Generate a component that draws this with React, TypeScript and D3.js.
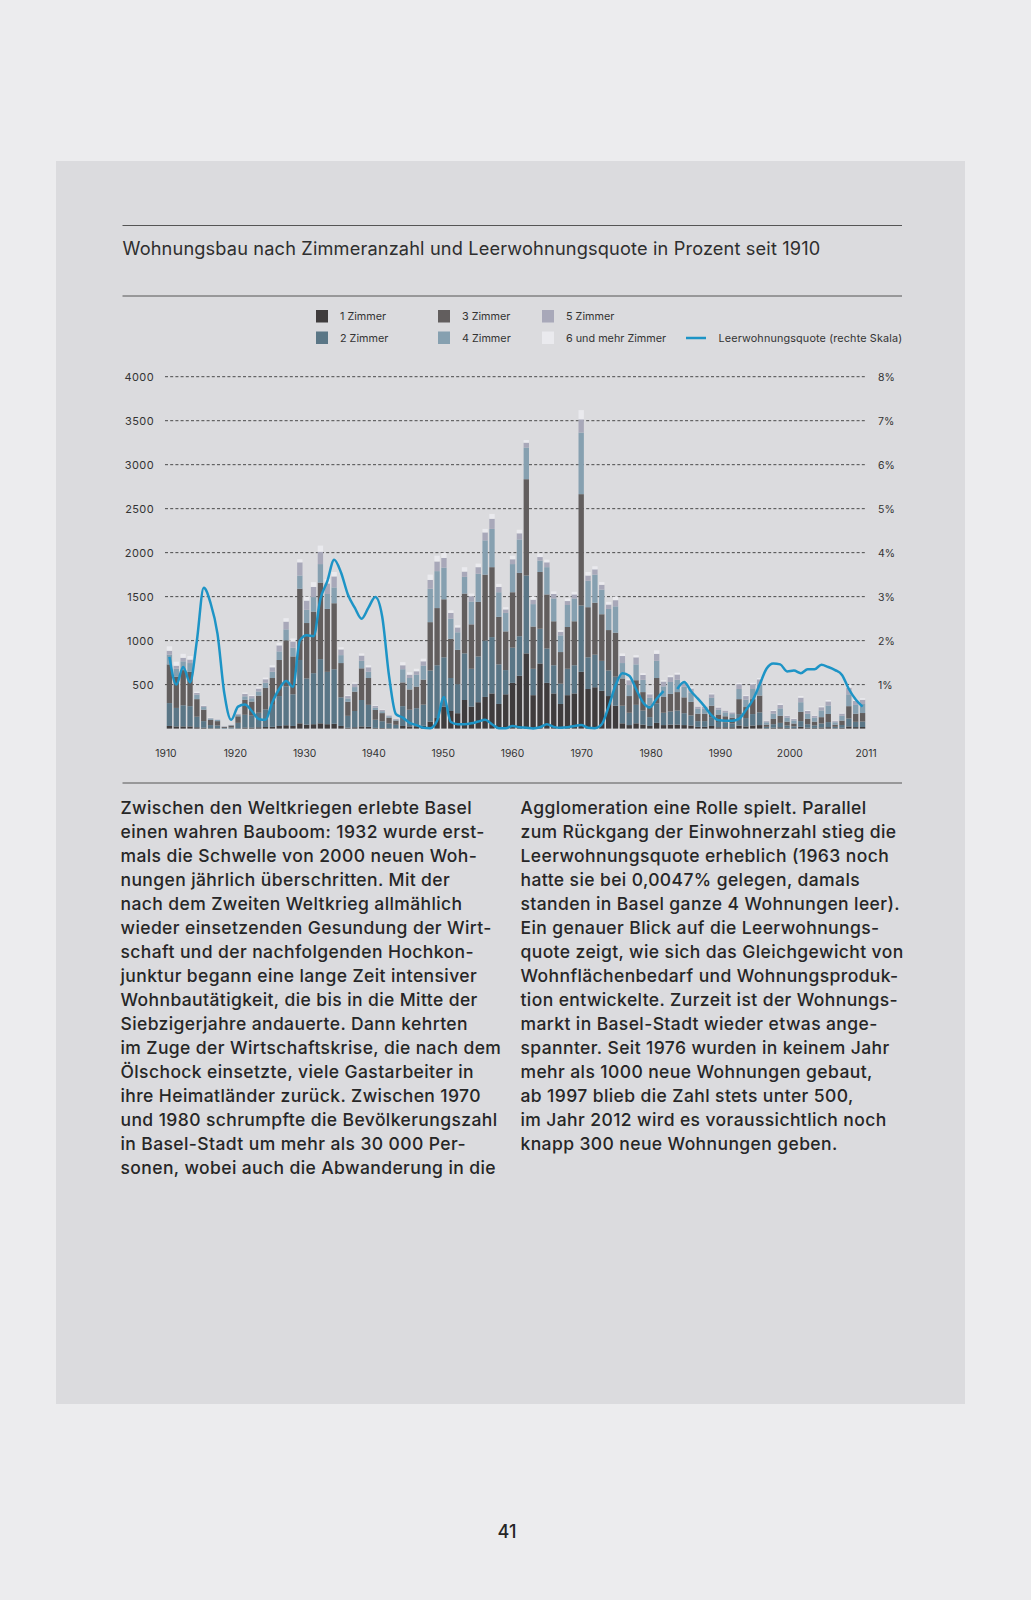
import React from 'react';
import * as d3 from 'd3';

// Wohnungsbau Basel-Stadt 1910-2011, neu erstellte Wohnungen nach Zimmerzahl
const years = d3.range(1910, 2012);

const zimmer1 = [
  30, 25, 25, 25, 15, 10, 5, 5, 0, 2,
  5, 12, 12, 15, 18, 20, 30, 38, 30, 60,
  45, 50, 60, 50, 55, 30, 10, 15, 25, 20,
  8, 7, 5, 3, 30, 25, 27, 32, 80, 120,
  250, 200, 175, 325, 250, 300, 360, 400, 280, 390,
  520, 600, 855, 380, 740, 520, 400, 280, 380, 400,
  645, 450, 470, 430, 370, 260, 60, 40, 60, 45,
  30, 65, 40, 45, 45, 40, 35, 20, 20, 30,
  15, 15, 15, 35, 25, 35, 40, 5, 10, 15,
  8, 6, 20, 10, 8, 13, 16, 5, 9, 25,
  17, 18,
];
const zimmer2 = [
  260, 210, 240, 230, 120, 75, 35, 30, 8, 12,
  60, 145, 135, 165, 200, 250, 340, 440, 360, 720,
  525, 580, 730, 595, 620, 325, 135, 185, 300, 250,
  93, 77, 54, 40, 225, 190, 205, 240, 580, 600,
  560, 375, 330, 530, 430, 520, 640, 640, 450, 275,
  400, 450, 885, 300, 395, 390, 320, 230, 300, 320,
  755, 360, 370, 340, 290, 330, 200, 140, 210, 160,
  100, 220, 140, 150, 160, 135, 115, 65, 65, 100,
  60, 55, 45, 130, 95, 130, 145, 15, 40, 50,
  28, 20, 65, 40, 28, 45, 58, 15, 32, 90,
  60, 62,
];
const zimmer3 = [
  440, 355, 400, 390, 200, 130, 60, 50, 12, 21,
  75, 170, 160, 195, 245, 305, 410, 525, 430, 810,
  630, 700, 870, 715, 750, 390, 160, 220, 360, 305,
  111, 92, 65, 48, 270, 230, 245, 285, 550, 650,
  660, 445, 390, 680, 505, 620, 750, 795, 540, 440,
  630, 720, 1095, 480, 645, 615, 500, 360, 475, 500,
  1265, 570, 590, 530, 460, 500, 310, 190, 280, 210,
  130, 290, 180, 200, 210, 180, 155, 85, 85, 130,
  85, 70, 65, 170, 125, 170, 190, 25, 60, 80,
  43, 32, 105, 60, 43, 72, 92, 25, 50, 140,
  92, 97,
];
const zimmer4 = [
  110, 90, 100, 100, 50, 30, 15, 15, 3, 5,
  18, 40, 38, 47, 58, 72, 98, 125, 100, 150,
  150, 165, 210, 170, 180, 90, 38, 52, 85, 72,
  27, 22, 16, 12, 150, 130, 135, 160, 380, 420,
  360, 230, 200, 190, 260, 320, 390, 435, 280, 210,
  320, 380, 360, 255, 130, 310, 260, 190, 250, 260,
  700, 300, 320, 280, 240, 300, 175, 125, 180, 140,
  90, 195, 120, 135, 140, 120, 105, 55, 55, 90,
  55, 45, 40, 115, 85, 115, 125, 27, 60, 85,
  46, 35, 110, 60, 46, 77, 97, 27, 55, 135,
  100, 103,
];
const zimmer5 = [
  45, 35, 40, 40, 20, 15, 5, 5, 1, 3,
  12, 28, 25, 33, 40, 50, 68, 88, 70, 150,
  105, 115, 140, 120, 125, 65, 27, 38, 60, 50,
  18, 15, 11, 8, 45, 38, 40, 48, 100, 110,
  110, 65, 55, 60, 60, 75, 90, 115, 60, 40,
  55, 70, 55, 50, 40, 55, 50, 40, 45, 45,
  150, 60, 60, 55, 50, 70, 80, 55, 80, 55,
  40, 80, 55, 55, 60, 50, 45, 25, 25, 40,
  25, 20, 20, 55, 40, 55, 60, 13, 30, 40,
  22, 16, 52, 30, 22, 36, 46, 13, 25, 75,
  45, 48,
];
const zimmer6 = [
  50, 45, 45, 40, 15, 10, 5, 5, 1, 2,
  5, 15, 10, 15, 19, 23, 29, 39, 35, 35,
  45, 55, 70, 50, 50, 25, 10, 15, 25, 23,
  8, 7, 4, 4, 35, 27, 28, 30, 60, 65,
  55, 30, 25, 50, 30, 40, 40, 55, 35, 25,
  40, 40, 30, 35, 40, 30, 30, 20, 30, 30,
  105, 40, 35, 30, 30, 40, 30, 20, 25, 20,
  10, 40, 15, 20, 20, 15, 15, 5, 5, 10,
  10, 5, 5, 15, 10, 15, 15, 5, 10, 15,
  8, 6, 18, 10, 8, 12, 16, 5, 9, 30,
  16, 17,
];

// Leerwohnungsquote in Prozent (rechte Skala), null = Bruch in der Reihe
const leerquote: (number | null)[] = [
  1.63, 1.0, 1.4, 1.05, 2.0, 3.2, 2.85, 2.16, 0.8, 0.2,
  0.5, 0.55, 0.4, 0.22, 0.2, 0.6, 0.9, 1.08, 0.95, 2.0,
  2.12, 2.1, 2.95, 3.35, 3.84, 3.55, 3.05, 2.75, 2.5, 2.75,
  2.99, 2.55, 1.2, 0.33, 0.25, 0.13, 0.08, 0.02, 0.01, 0.18,
  0.72, 0.15, 0.1, 0.1, 0.12, 0.16, 0.2, 0.1, 0.01, 0.01,
  0.06, 0.03, 0.02, 0.005, 0.03, 0.1, 0.04, 0.02, 0.03, 0.06,
  0.08, 0.02, 0.01, 0.1, 0.5, 0.98, 1.26, 1.2, 0.9, 0.6,
  0.48, 0.68, 0.85, null, 0.9, 1.06, 0.85, 0.68, 0.5, 0.3,
  0.19, 0.18, 0.18, 0.22, 0.42, 0.65, 1.0, 1.36, 1.48, 1.46,
  1.3, 1.32, 1.26, 1.35, 1.35, 1.45, 1.4, 1.33, 1.22, 0.9,
  0.66, 0.5,
];

const keys = ['z1', 'z2', 'z3', 'z4', 'z5', 'z6'];
const keyLabels = ['1 Zimmer', '2 Zimmer', '3 Zimmer', '4 Zimmer', '5 Zimmer', '6 und mehr Zimmer'];
const keyColors = ['#3f3c3d', '#5a7686', '#625e5e', '#86a0b0', '#a8a8b9', '#eaeaee'];
const lineColor = '#1d94c6';

const leftTicks = [500, 1000, 1500, 2000, 2500, 3000, 3500, 4000];
const rightTicks = [1, 2, 3, 4, 5, 6, 7, 8];
const xTickYears = [1910, 1920, 1930, 1940, 1950, 1960, 1970, 1980, 1990, 2000, 2011];

const title = 'Wohnungsbau nach Zimmeranzahl und Leerwohnungsquote in Prozent seit 1910';

const textLeft = [
  'Zwischen den Weltkriegen erlebte Basel',
  'einen wahren Bauboom: 1932 wurde erst-',
  'mals die Schwelle von 2000 neuen Woh-',
  'nungen jährlich überschritten. Mit der',
  'nach dem Zweiten Weltkrieg allmählich',
  'wieder einsetzenden Gesundung der Wirt-',
  'schaft und der nachfolgenden Hochkon-',
  'junktur begann eine lange Zeit intensiver',
  'Wohnbautätigkeit, die bis in die Mitte der',
  'Siebzigerjahre andauerte. Dann kehrten',
  'im Zuge der Wirtschaftskrise, die nach dem',
  'Ölschock einsetzte, viele Gastarbeiter in',
  'ihre Heimatländer zurück. Zwischen 1970',
  'und 1980 schrumpfte die Bevölkerungszahl',
  'in Basel-Stadt um mehr als 30 000 Per-',
  'sonen, wobei auch die Abwanderung in die',
];
const textRight = [
  'Agglomeration eine Rolle spielt. Parallel',
  'zum Rückgang der Einwohnerzahl stieg die',
  'Leerwohnungsquote erheblich (1963 noch',
  'hatte sie bei 0,0047% gelegen, damals',
  'standen in Basel ganze 4 Wohnungen leer).',
  'Ein genauer Blick auf die Leerwohnungs-',
  'quote zeigt, wie sich das Gleichgewicht von',
  'Wohnflächenbedarf und Wohnungsproduk-',
  'tion entwickelte. Zurzeit ist der Wohnungs-',
  'markt in Basel-Stadt wieder etwas ange-',
  'spannter. Seit 1976 wurden in keinem Jahr',
  'mehr als 1000 neue Wohnungen gebaut,',
  'ab 1997 blieb die Zahl stets unter 500,',
  'im Jahr 2012 wird es voraussichtlich noch',
  'knapp 300 neue Wohnungen geben.',
];

const W = 1031;
const H = 1600;
const FONT = 'Inter, "Liberation Sans", sans-serif';

export default function App() {
  const rows = years.map((year, i) => ({
    year,
    z1: zimmer1[i], z2: zimmer2[i], z3: zimmer3[i],
    z4: zimmer4[i], z5: zimmer5[i], z6: zimmer6[i],
  }));

  const x = d3.scaleBand<number>()
    .domain(years)
    .range([166, 866])
    .paddingInner(0.22)
    .paddingOuter(0.11);

  // Jahreslabels laufen von der linken Kante des ersten bis zur rechten Kante des letzten Balkens
  const xLabel = d3.scaleLinear().domain([1910, 2011]).range([166, 866]);

  const y = d3.scaleLinear().domain([0, 4000]).range([728.6, 376.7]);
  const yRight = d3.scaleLinear().domain([0, 8]).range([728.6, 376.7]);

  const series = d3.stack<any>().keys(keys)(rows);

  const line = d3.line<number | null>()
    .defined(d => d != null)
    .x((_, i) => (x(years[i]) as number) + x.bandwidth() / 2)
    .y(d => yRight(d as number))
    .curve(d3.curveMonotoneX);

  const legendCols = [316, 438, 542];

  return (
    <div style={{ position: 'absolute', left: 0, top: 0 }}>
      <svg width={W} height={H} style={{ display: 'block' }} fontFamily={FONT}>
        <rect x={0} y={0} width={W} height={H} fill="#ececee" />
        <rect x={56} y={161} width={909} height={1243} fill="#dbdbde" />

        {/* Kopf */}
        <line x1={122.5} x2={902} y1={225.5} y2={225.5} stroke="#555" strokeWidth={1} />
        <text x={122.5} y={254.5} fontSize={18.2} fill="#2e2e2e" letterSpacing={0.15}>{title}</text>
        <line x1={122.5} x2={902} y1={296} y2={296} stroke="#555" strokeWidth={1} />

        {/* Legende */}
        {keys.map((k, i) => {
          const col = Math.floor(i / 2);
          const row = i % 2;
          const lx = legendCols[col];
          const ly = 310 + row * 21.5;
          return (
            <g key={k}>
              <rect x={lx} y={ly} width={12} height={12.5} fill={keyColors[i]} />
              <text x={lx + 24} y={ly + 10} fontSize={10.8} fill="#333">{keyLabels[i]}</text>
            </g>
          );
        })}
        <line x1={686} x2={706} y1={338} y2={338} stroke={lineColor} strokeWidth={2.5} />
        <text x={718.5} y={341.5} fontSize={10.8} fill="#333" letterSpacing={0.15}>Leerwohnungsquote (rechte Skala)</text>

        {/* Raster */}
        {leftTicks.map(t => (
          <g key={t}>
            <line x1={165} x2={866} y1={y(t)} y2={y(t)} stroke="#4a4a4a" strokeWidth={1} strokeDasharray="3,2.2" />
            <text x={154} y={y(t) + 4} fontSize={11} textAnchor="end" fill="#333" letterSpacing={0.4}>{t}</text>
          </g>
        ))}
        {rightTicks.map(t => (
          <text key={t} x={878} y={yRight(t) + 4} fontSize={10.5} fill="#333">{t}%</text>
        ))}

        {/* Balken */}
        {series.map((s, si) => (
          <g key={keys[si]} fill={keyColors[si]}>
            {s.map((d: any, i: number) => (
              <rect
                key={i}
                x={x(years[i])}
                y={y(d[1])}
                width={x.bandwidth()}
                height={Math.max(0, y(d[0]) - y(d[1]))}
              />
            ))}
          </g>
        ))}

        {/* Leerwohnungsquote */}
        <path d={line(leerquote) || ''} fill="none" stroke={lineColor} strokeWidth={2.5} strokeLinejoin="round" />

        {/* X-Achse */}
        {xTickYears.map(yr => (
          <text key={yr} x={xLabel(yr)} y={757} fontSize={10.3} textAnchor="middle" fill="#333">{yr}</text>
        ))}
        <line x1={122.5} x2={902} y1={783} y2={783} stroke="#555" strokeWidth={1} />

        {/* Fliesstext */}
        {textLeft.map((t, i) => (
          <text key={'l' + i} x={120.5} y={814 + i * 24} fontSize={17.5} fontWeight={500} fill="#262626" letterSpacing={0.4}>{t}</text>
        ))}
        {textRight.map((t, i) => (
          <text key={'r' + i} x={520.5} y={814 + i * 24} fontSize={17.5} fontWeight={500} fill="#262626" letterSpacing={0.4}>{t}</text>
        ))}

        <text x={507} y={1538} fontSize={18} fontWeight={500} textAnchor="middle" fill="#262626">41</text>
      </svg>
    </div>
  );
}
